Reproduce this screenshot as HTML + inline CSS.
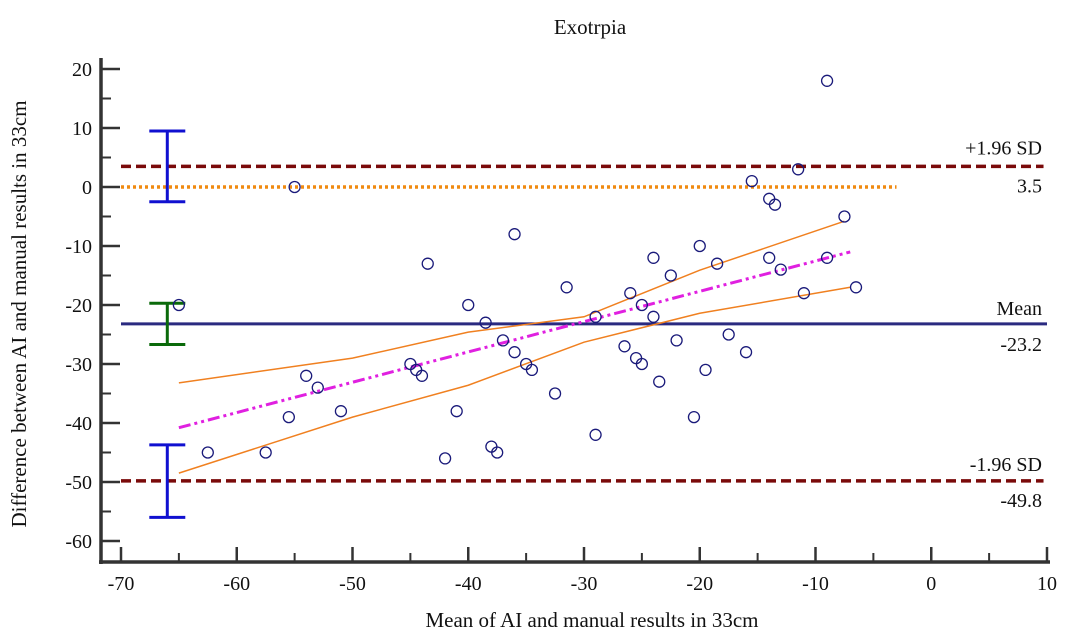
<!DOCTYPE html>
<html><head><meta charset="utf-8"><style>
html,body{margin:0;padding:0;background:#fff;}
svg text{font-family:"Liberation Serif",serif;fill:#111;}
</style></head><body>
<svg id="chart" width="1080" height="634" viewBox="0 0 1080 634" xmlns="http://www.w3.org/2000/svg">
<text x="590" y="34" font-size="21" text-anchor="middle">Exotrpia</text>
<text x="592" y="627" font-size="21" text-anchor="middle">Mean of AI and manual results in 33cm</text>
<text transform="translate(26,314) rotate(-90)" font-size="21" text-anchor="middle">Difference between AI and manual results in 33cm</text>
<g id="marks"></g>
<g id="axes"></g>
</svg>
<script>
const xTicks=[-70,-60,-50,-40,-30,-20,-10,0,10];
const yTicks=[20,10,0,-10,-20,-30,-40,-50,-60];
const meanX=[-65,-55,-62.5,-57.5,-55.5,-54,-53,-51,-45,-44.5,-44,-43.5,-42,-41,-40,-38.5,-38,-37.5,-37,-36,-36,-35,-34.5,-32.5,-31.5,-29,-29,-26.5,-26,-25.5,-25,-25,-24,-24,-23.5,-22.5,-22,-20.5,-20,-19.5,-18.5,-17.5,-16,-15.5,-14,-14,-13.5,-13,-11.5,-11,-9,-9,-7.5,-6.5];
const diffY=[-20,0,-45,-45,-39,-32,-34,-38,-30,-31,-32,-13,-46,-38,-20,-23,-44,-45,-26,-28,-8,-30,-31,-35,-17,-22,-42,-27,-18,-29,-20,-30,-12,-22,-33,-15,-26,-39,-10,-31,-13,-25,-28,1,-2,-12,-3,-14,3,-18,18,-12,-5,-17];
const meanDiff=-23.2, upperLoA=3.5, lowerLoA=-49.8;
const regX=[-65,-7];
const regY=[-40.8,-11];
const ciUpperX=[-65,-50,-40,-30,-20,-7.5];
const ciUpperY=[-33.2,-29.0,-24.6,-22.0,-14.1,-5.8];
const ciLowerX=[-65,-50,-40,-30,-20,-7];
const ciLowerY=[-48.5,-39,-33.6,-26.3,-21.4,-17];
const errBars=[[9.5,-2.5],[-19.7,-26.7],[-43.7,-56]];
const errColors=['#1010d0','#0a6a0a','#1010d0'];
const NS='http://www.w3.org/2000/svg';
const X=v=>121+(v+70)*11.575;
const Y=v=>187-v*5.9;
function mk(p,tag,a){const e=document.createElementNS(NS,tag);for(const k in a)e.setAttribute(k,a[k]);p.appendChild(e);return e;}
const marks=document.getElementById('marks'), axes=document.getElementById('axes');
let e;
e=mk(marks,'line',{x1:X(-70),x2:X(-3),y1:Y(0),y2:Y(0),stroke:'#f08a10','stroke-width':3.5,'stroke-dasharray':'3 3'});

e=mk(marks,'line',{x1:X(-70),x2:X(9.7),y1:Y(upperLoA),y2:Y(upperLoA),stroke:'#7a0a0a','stroke-width':3.5,'stroke-dasharray':'10 5'});

e=mk(marks,'line',{x1:X(-70),x2:X(9.7),y1:Y(lowerLoA),y2:Y(lowerLoA),stroke:'#7a0a0a','stroke-width':3.5,'stroke-dasharray':'10 5'});

e=mk(marks,'line',{x1:X(-70),x2:X(10),y1:Y(meanDiff),y2:Y(meanDiff),stroke:'#2a2a80','stroke-width':3});

e=mk(marks,'polyline',{points:ciUpperX.map((v,i)=>X(v)+','+Y(ciUpperY[i])).join(' '),fill:'none',stroke:'#f08020','stroke-width':1.5});

e=mk(marks,'polyline',{points:ciLowerX.map((v,i)=>X(v)+','+Y(ciLowerY[i])).join(' '),fill:'none',stroke:'#f08020','stroke-width':1.5});

e=mk(marks,'line',{x1:X(regX[0]),x2:X(regX[1]),y1:Y(regY[0]),y2:Y(regY[1]),stroke:'#e020e0','stroke-width':3,'stroke-dasharray':'12 4 3 4 3 4'});

errBars.forEach((b,i)=>{
  const g=mk(marks,'g',{stroke:errColors[i],'stroke-width':3});
  
  const cx=X(-66);
  mk(g,'line',{x1:cx,x2:cx,y1:Y(b[0]),y2:Y(b[1])});
  mk(g,'line',{x1:cx-18,x2:cx+18,y1:Y(b[0]),y2:Y(b[0])});
  mk(g,'line',{x1:cx-18,x2:cx+18,y1:Y(b[1]),y2:Y(b[1])});
});
meanX.forEach((v,i)=>{
  const c=mk(marks,'circle',{cx:X(v),cy:Y(diffY[i]),r:5.5,fill:'none',stroke:'#1a1a7a','stroke-width':1.3});
  
  
});
const lbls=[['+1.96 SD',Y(upperLoA)-12,'upper-loa-label'],['3.5',Y(upperLoA)+26,'upper-loa-value'],['Mean',Y(meanDiff)-9,'mean-label'],['-23.2',Y(meanDiff)+27,'mean-value'],['-1.96 SD',Y(lowerLoA)-10,'lower-loa-label'],['-49.8',Y(lowerLoA)+26,'lower-loa-value']];
lbls.forEach(l=>{const t=mk(marks,'text',{x:1042,y:l[1],'font-size':20,'text-anchor':'end'});t.textContent=l[0];
  });
e=mk(axes,'line',{x1:101,x2:101,y1:58,y2:564,stroke:'#333','stroke-width':3.5});

e=mk(axes,'line',{x1:99,x2:1050,y1:562,y2:562,stroke:'#333','stroke-width':3.5});

yTicks.forEach(v=>{
  mk(axes,'line',{x1:101,x2:120,y1:Y(v),y2:Y(v),stroke:'#333','stroke-width':2.5});
  if(v>-60) mk(axes,'line',{x1:101,x2:111,y1:Y(v-5),y2:Y(v-5),stroke:'#333','stroke-width':2});
  const t=mk(axes,'text',{x:92,y:Y(v)+7,'font-size':20,'text-anchor':'end'});t.textContent=v;
  
});
xTicks.forEach(v=>{
  mk(axes,'line',{x1:X(v),x2:X(v),y1:562,y2:547,stroke:'#333','stroke-width':2.5});
  if(v<10) mk(axes,'line',{x1:X(v+5),x2:X(v+5),y1:562,y2:553,stroke:'#333','stroke-width':2});
  const t=mk(axes,'text',{x:X(v),y:590,'font-size':20,'text-anchor':'middle'});t.textContent=v;
  
});
</script>
</body></html>
